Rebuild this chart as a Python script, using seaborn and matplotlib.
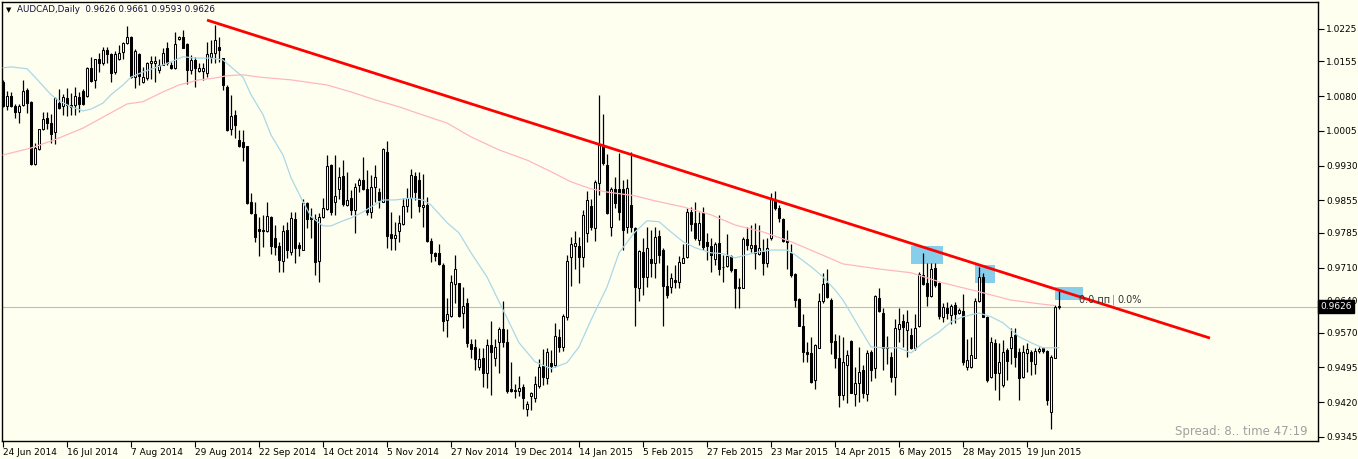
import numpy as np
import matplotlib
matplotlib.use("Agg")
import matplotlib.pyplot as plt
import seaborn as sns
from matplotlib.patches import Rectangle
from matplotlib.transforms import blended_transform_factory

# ---------------- data (AUDCAD daily) ----------------
opens = [
    1.0111, 1.0059, 1.0080, 1.0059, 1.0046, 1.0061, 1.0093, 1.0068, 0.9933, 0.9965,
    1.0009, 1.0032, 1.0022, 1.0002, 1.0066, 1.0059, 1.0076, 1.0061, 1.0061, 1.0079,
    1.0091, 1.0081, 1.0141, 1.0115, 1.0161, 1.0151, 1.0180, 1.0170, 1.0133, 1.0160,
    1.0176, 1.0195, 1.0207, 1.0122, 1.0171, 1.0110, 1.0120, 1.0151, 1.0152, 1.0136,
    1.0148, 1.0183, 1.0148, 1.0140, 1.0203, 1.0208, 1.0192, 1.0136, 1.0158, 1.0135,
    1.0135, 1.0129, 1.0165, 1.0172, 1.0187, 1.0162, 1.0100, 1.0009, 1.0039, 0.9985,
    0.9982, 0.9972, 0.9852, 0.9826, 0.9793, 0.9791, 0.9788, 0.9820, 0.9773, 0.9757,
    0.9725, 0.9791, 0.9743, 0.9815, 0.9759, 0.9748, 0.9849, 0.9820, 0.9815, 0.9725,
    0.9819, 0.9836, 0.9931, 0.9851, 0.9879, 0.9908, 0.9845, 0.9860, 0.9834, 0.9888,
    0.9898, 0.9880, 0.9831, 0.9883, 0.9874, 0.9852, 0.9960, 0.9782, 0.9773, 0.9788,
    0.9804, 0.9842, 0.9861, 0.9908, 0.9899, 0.9840, 0.9845, 0.9767, 0.9741, 0.9741,
    0.9716, 0.9597, 0.9606, 0.9675, 0.9676, 0.9613, 0.9633, 0.9545, 0.9538, 0.9495,
    0.9514, 0.9483, 0.9543, 0.9516, 0.9550, 0.9578, 0.9549, 0.9448, 0.9447, 0.9444,
    0.9452, 0.9406, 0.9433, 0.9428, 0.9455, 0.9498, 0.9471, 0.9505, 0.9500, 0.9560,
    0.9539, 0.9604, 0.9732, 0.9757, 0.9757, 0.9732, 0.9784, 0.9843, 0.9795, 0.9893,
    0.9974, 0.9931, 0.9798, 0.9879, 0.9879, 0.9879, 0.9797, 0.9845, 0.9795, 0.9667,
    0.9744, 0.9690, 0.9728, 0.9721, 0.9778, 0.9748, 0.9670, 0.9669, 0.9683, 0.9680,
    0.9719, 0.9732, 0.9829, 0.9806, 0.9770, 0.9827, 0.9766, 0.9757, 0.9728, 0.9764,
    0.9712, 0.9714, 0.9735, 0.9706, 0.9667, 0.9667, 0.9771, 0.9752, 0.9759, 0.9739,
    0.9744, 0.9719, 0.9773, 0.9856, 0.9838, 0.9814, 0.9770, 0.9742, 0.9696, 0.9642,
    0.9585, 0.9527, 0.9525, 0.9468, 0.9537, 0.9637, 0.9676, 0.9640, 0.9552, 0.9514,
    0.9435, 0.9500, 0.9552, 0.9437, 0.9462, 0.9489, 0.9437, 0.9527, 0.9493, 0.9644,
    0.9613, 0.9539, 0.9518, 0.9475, 0.9577, 0.9595, 0.9575, 0.9564, 0.9536, 0.9583,
    0.9694, 0.9676, 0.9649, 0.9710, 0.9677, 0.9603, 0.9623, 0.9608, 0.9629, 0.9613,
    0.9616, 0.9495, 0.9496, 0.9516, 0.9639, 0.9690, 0.9603, 0.9473, 0.9548, 0.9482,
    0.9457, 0.9532, 0.9536, 0.9564, 0.9527, 0.9475, 0.9525, 0.9527, 0.9502, 0.9531,
    0.9536, 0.9531, 0.9398, 0.9516, 0.9626,
]
highs = [
    1.0115, 1.0091, 1.0089, 1.0064, 1.0064, 1.0114, 1.0097, 1.0069, 0.9978, 1.0009,
    1.0046, 1.0045, 1.0041, 1.0078, 1.0095, 1.0084, 1.0097, 1.0086, 1.0099, 1.0089,
    1.0095, 1.0143, 1.0165, 1.0161, 1.0172, 1.0187, 1.0187, 1.0174, 1.0177, 1.0190,
    1.0197, 1.0232, 1.0210, 1.0182, 1.0172, 1.0143, 1.0153, 1.0167, 1.0167, 1.0159,
    1.0183, 1.0197, 1.0154, 1.0219, 1.0210, 1.0223, 1.0194, 1.0169, 1.0165, 1.0151,
    1.0151, 1.0196, 1.0201, 1.0234, 1.0208, 1.0163, 1.0103, 1.0082, 1.0050, 1.0007,
    1.0007, 0.9973, 0.9870, 0.9852, 0.9820, 0.9824, 0.9852, 0.9821, 0.9802, 0.9766,
    0.9801, 0.9809, 0.9831, 0.9831, 0.9766, 0.9858, 0.9852, 0.9838, 0.9825, 0.9827,
    0.9861, 0.9954, 0.9933, 0.9953, 0.9926, 0.9942, 0.9917, 0.9877, 0.9892, 0.9903,
    0.9949, 0.9921, 0.9910, 0.9931, 0.9881, 0.9967, 0.9983, 0.9831, 0.9809, 0.9824,
    0.9860, 0.9881, 0.9922, 0.9917, 0.9917, 0.9911, 0.9862, 0.9773, 0.9744, 0.9762,
    0.9719, 0.9644, 0.9694, 0.9737, 0.9677, 0.9669, 0.9644, 0.9557, 0.9557, 0.9536,
    0.9536, 0.9557, 0.9595, 0.9555, 0.9581, 0.9638, 0.9577, 0.9507, 0.9460, 0.9476,
    0.9460, 0.9423, 0.9442, 0.9476, 0.9512, 0.9534, 0.9536, 0.9532, 0.9590, 0.9577,
    0.9610, 0.9737, 0.9777, 0.9790, 0.9777, 0.9834, 0.9876, 0.9859, 0.9900, 1.0082,
    1.0041, 0.9956, 0.9885, 0.9905, 0.9958, 0.9900, 0.9902, 0.9960, 0.9798, 0.9748,
    0.9773, 0.9798, 0.9791, 0.9798, 0.9791, 0.9752, 0.9716, 0.9698, 0.9716, 0.9734,
    0.9762, 0.9838, 0.9841, 0.9852, 0.9831, 0.9840, 0.9784, 0.9773, 0.9766, 0.9824,
    0.9737, 0.9783, 0.9738, 0.9708, 0.9687, 0.9777, 0.9798, 0.9802, 0.9806, 0.9802,
    0.9771, 0.9773, 0.9870, 0.9876, 0.9845, 0.9816, 0.9791, 0.9762, 0.9698, 0.9644,
    0.9611, 0.9550, 0.9561, 0.9545, 0.9655, 0.9698, 0.9708, 0.9644, 0.9567, 0.9565,
    0.9561, 0.9532, 0.9554, 0.9496, 0.9539, 0.9500, 0.9532, 0.9532, 0.9651, 0.9667,
    0.9622, 0.9562, 0.9529, 0.9600, 0.9622, 0.9611, 0.9618, 0.9579, 0.9611, 0.9701,
    0.9741, 0.9719, 0.9719, 0.9719, 0.9680, 0.9633, 0.9636, 0.9631, 0.9636, 0.9622,
    0.9654, 0.9557, 0.9561, 0.9644, 0.9712, 0.9698, 0.9606, 0.9561, 0.9557, 0.9547,
    0.9554, 0.9536, 0.9579, 0.9579, 0.9536, 0.9543, 0.9547, 0.9532, 0.9536, 0.9539,
    0.9539, 0.9532, 0.9521, 0.9629, 0.9661,
]
lows = [
    1.0057, 1.0050, 1.0057, 1.0032, 1.0023, 1.0059, 1.0043, 0.9931, 0.9932, 0.9963,
    1.0007, 1.0010, 0.9978, 0.9976, 1.0053, 1.0039, 1.0037, 1.0039, 1.0039, 1.0046,
    1.0061, 1.0079, 1.0111, 1.0097, 1.0133, 1.0147, 1.0151, 1.0111, 1.0127, 1.0158,
    1.0161, 1.0192, 1.0120, 1.0098, 1.0105, 1.0108, 1.0115, 1.0117, 1.0110, 1.0129,
    1.0147, 1.0148, 1.0138, 1.0138, 1.0201, 1.0183, 1.0107, 1.0127, 1.0100, 1.0133,
    1.0115, 1.0122, 1.0151, 1.0151, 1.0154, 1.0093, 1.0005, 0.9996, 0.9990, 0.9971,
    0.9939, 0.9847, 0.9826, 0.9766, 0.9736, 0.9755, 0.9786, 0.9739, 0.9737, 0.9700,
    0.9701, 0.9730, 0.9737, 0.9721, 0.9734, 0.9747, 0.9795, 0.9773, 0.9694, 0.9680,
    0.9817, 0.9834, 0.9824, 0.9824, 0.9857, 0.9844, 0.9842, 0.9824, 0.9784, 0.9874,
    0.9877, 0.9824, 0.9818, 0.9852, 0.9838, 0.9851, 0.9752, 0.9747, 0.9748, 0.9766,
    0.9802, 0.9831, 0.9817, 0.9856, 0.9829, 0.9797, 0.9766, 0.9723, 0.9725, 0.9716,
    0.9574, 0.9560, 0.9604, 0.9633, 0.9604, 0.9579, 0.9539, 0.9514, 0.9490, 0.9489,
    0.9453, 0.9450, 0.9435, 0.9498, 0.9482, 0.9539, 0.9439, 0.9442, 0.9428, 0.9432,
    0.9406, 0.9390, 0.9403, 0.9421, 0.9450, 0.9457, 0.9459, 0.9485, 0.9496, 0.9529,
    0.9531, 0.9597, 0.9671, 0.9708, 0.9676, 0.9712, 0.9766, 0.9791, 0.9768, 0.9866,
    0.9931, 0.9826, 0.9778, 0.9838, 0.9813, 0.9749, 0.9785, 0.9787, 0.9583, 0.9639,
    0.9651, 0.9669, 0.9690, 0.9687, 0.9719, 0.9585, 0.9644, 0.9655, 0.9665, 0.9665,
    0.9719, 0.9730, 0.9788, 0.9770, 0.9759, 0.9748, 0.9726, 0.9701, 0.9716, 0.9694,
    0.9680, 0.9711, 0.9701, 0.9622, 0.9622, 0.9665, 0.9748, 0.9744, 0.9708, 0.9737,
    0.9694, 0.9712, 0.9770, 0.9834, 0.9809, 0.9766, 0.9708, 0.9690, 0.9626, 0.9583,
    0.9507, 0.9507, 0.9462, 0.9448, 0.9536, 0.9633, 0.9644, 0.9524, 0.9493, 0.9410,
    0.9424, 0.9417, 0.9439, 0.9411, 0.9421, 0.9428, 0.9422, 0.9466, 0.9471, 0.9615,
    0.9489, 0.9503, 0.9464, 0.9435, 0.9550, 0.9539, 0.9518, 0.9534, 0.9532, 0.9581,
    0.9672, 0.9627, 0.9647, 0.9669, 0.9600, 0.9593, 0.9600, 0.9588, 0.9590, 0.9609,
    0.9500, 0.9489, 0.9493, 0.9514, 0.9636, 0.9603, 0.9464, 0.9471, 0.9446, 0.9424,
    0.9453, 0.9467, 0.9503, 0.9496, 0.9424, 0.9471, 0.9485, 0.9478, 0.9480, 0.9525,
    0.9525, 0.9413, 0.9361, 0.9514, 0.9620,
]
closes = [
    1.0059, 1.0080, 1.0059, 1.0046, 1.0059, 1.0091, 1.0066, 0.9933, 0.9967, 1.0009,
    1.0030, 1.0021, 0.9999, 1.0076, 1.0055, 1.0078, 1.0061, 1.0057, 1.0081, 1.0062,
    1.0062, 1.0140, 1.0113, 1.0160, 1.0152, 1.0179, 1.0170, 1.0129, 1.0170, 1.0174,
    1.0195, 1.0207, 1.0122, 1.0177, 1.0124, 1.0122, 1.0151, 1.0156, 1.0156, 1.0148,
    1.0174, 1.0152, 1.0141, 1.0193, 1.0207, 1.0184, 1.0136, 1.0158, 1.0140, 1.0141,
    1.0141, 1.0170, 1.0172, 1.0201, 1.0180, 1.0103, 1.0007, 1.0038, 1.0018, 0.9972,
    0.9971, 0.9849, 0.9827, 0.9777, 0.9789, 0.9788, 0.9821, 0.9757, 0.9755, 0.9727,
    0.9788, 0.9748, 0.9816, 0.9752, 0.9752, 0.9849, 0.9815, 0.9815, 0.9722, 0.9820,
    0.9838, 0.9929, 0.9831, 0.9865, 0.9906, 0.9847, 0.9856, 0.9834, 0.9883, 0.9898,
    0.9880, 0.9831, 0.9883, 0.9906, 0.9856, 0.9965, 0.9779, 0.9773, 0.9780, 0.9806,
    0.9842, 0.9861, 0.9910, 0.9874, 0.9842, 0.9846, 0.9768, 0.9741, 0.9736, 0.9718,
    0.9595, 0.9611, 0.9678, 0.9706, 0.9606, 0.9627, 0.9548, 0.9534, 0.9512, 0.9512,
    0.9482, 0.9544, 0.9529, 0.9538, 0.9578, 0.9550, 0.9444, 0.9444, 0.9444, 0.9451,
    0.9428, 0.9416, 0.9439, 0.9460, 0.9495, 0.9473, 0.9527, 0.9498, 0.9562, 0.9538,
    0.9606, 0.9724, 0.9761, 0.9764, 0.9732, 0.9823, 0.9856, 0.9798, 0.9895, 0.9974,
    0.9935, 0.9827, 0.9879, 0.9849, 0.9831, 0.9791, 0.9881, 0.9798, 0.9669, 0.9746,
    0.9690, 0.9752, 0.9721, 0.9777, 0.9737, 0.9670, 0.9651, 0.9687, 0.9680, 0.9723,
    0.9730, 0.9831, 0.9804, 0.9773, 0.9806, 0.9755, 0.9757, 0.9737, 0.9761, 0.9706,
    0.9711, 0.9735, 0.9705, 0.9667, 0.9669, 0.9771, 0.9759, 0.9759, 0.9741, 0.9752,
    0.9719, 0.9752, 0.9857, 0.9838, 0.9816, 0.9768, 0.9766, 0.9694, 0.9640, 0.9585,
    0.9529, 0.9524, 0.9464, 0.9543, 0.9637, 0.9674, 0.9646, 0.9550, 0.9514, 0.9435,
    0.9507, 0.9521, 0.9440, 0.9462, 0.9484, 0.9439, 0.9525, 0.9490, 0.9649, 0.9616,
    0.9536, 0.9536, 0.9473, 0.9579, 0.9588, 0.9581, 0.9593, 0.9536, 0.9579, 0.9696,
    0.9675, 0.9649, 0.9708, 0.9672, 0.9606, 0.9626, 0.9613, 0.9627, 0.9611, 0.9618,
    0.9507, 0.9511, 0.9521, 0.9639, 0.9689, 0.9604, 0.9467, 0.9550, 0.9482, 0.9507,
    0.9529, 0.9509, 0.9561, 0.9518, 0.9471, 0.9529, 0.9534, 0.9509, 0.9531, 0.9534,
    0.9531, 0.9424, 0.9518, 0.9624, 0.9626,
]

# fast moving average (light blue), sampled at bar indices
ma_fast_idx = [0, 2, 6, 8, 12, 14, 17, 20, 22, 25, 27, 30, 32, 35, 38, 42, 45, 48, 52, 55,
               57, 60, 62, 65, 67, 70, 72, 75, 77, 80, 82, 85, 87, 90, 92, 95, 98, 102, 105,
               107, 111, 114, 117, 121, 125, 129, 133, 137, 141, 144, 147, 151, 154, 158,
               161, 164, 167, 170, 173, 177, 180, 183, 186, 189, 192, 196, 198, 202, 205,
               208, 210, 214, 217, 220, 224, 227, 230, 234, 237, 240, 244, 247, 250, 254,
               257, 260, 264]
ma_fast_val = [1.0141, 1.0143, 1.0139, 1.0121, 1.0083, 1.0070, 1.0057, 1.0048, 1.0052, 1.0065,
               1.0083, 1.0104, 1.0121, 1.0132, 1.0141, 1.0154, 1.0165, 1.0162, 1.0162, 1.0158,
               1.0143, 1.0121, 1.0083, 1.0040, 0.9996, 0.9953, 0.9904, 0.9852, 0.9820, 0.9800,
               0.9800, 0.9811, 0.9817, 0.9830, 0.9841, 0.9856, 0.9856, 0.9860, 0.9856,
               0.9845, 0.9807, 0.9785, 0.9742, 0.9690, 0.9619, 0.9548, 0.9507, 0.9492, 0.9505,
               0.9539, 0.9597, 0.9668, 0.9742, 0.9787,
               0.9811, 0.9809, 0.9787, 0.9766, 0.9753, 0.9742, 0.9740, 0.9731, 0.9738, 0.9744,
               0.9748, 0.9748, 0.9738, 0.9712, 0.9690,
               0.9662, 0.9640, 0.9582, 0.9539, 0.9537, 0.9537, 0.9526, 0.9548, 0.9571, 0.9593,
               0.9604, 0.9612, 0.9604, 0.9591, 0.9561,
               0.9548, 0.9537, 0.9537]

# slow moving average (pink), sampled at bar indices
ma_slow_idx = [0, 7, 13, 20, 27, 31, 35, 40, 44, 49, 53, 56, 60, 64, 72, 81, 87, 93, 99, 104,
               111, 117, 124, 131, 137, 142, 147, 151, 158, 163, 170, 177, 183, 190, 197,
               203, 210, 219, 227, 235, 244, 252, 259, 263]
ma_slow_val = [0.9953, 0.9968, 0.9986, 1.0011, 1.0044, 1.0063, 1.0068, 1.0089, 1.0104, 1.0115,
               1.0119, 1.0124, 1.0126, 1.0121, 1.0115, 1.0104, 1.0089, 1.0072, 1.0057, 1.0042,
               1.0022, 0.9992, 0.9964, 0.9942, 0.9917, 0.9895, 0.9880, 0.9873, 0.9865, 0.9854,
               0.9841, 0.9824, 0.9802, 0.9787, 0.9766,
               0.9744, 0.9718, 0.9707, 0.9699, 0.9677, 0.9658, 0.9640, 0.9632, 0.9628]

# trend line (bar index, price)
trend_idx = [51, 301.75]
trend_val = [1.0244, 0.9558]

# highlight boxes: (start bar, end bar, low price, high price)
box_start = [227, 243, 263]
box_end = [235, 248, 270]
box_low = [0.9718, 0.9677, 0.9640]
box_high = [0.9757, 0.9716, 0.9669]

price_ticks = [1.0225, 1.0155, 1.0080, 1.0005, 0.9930, 0.9855, 0.9785, 0.9710,
               0.9640, 0.9570, 0.9495, 0.9420, 0.9345]
date_labels = ["24 Jun 2014", "16 Jul 2014", "7 Aug 2014", "29 Aug 2014", "22 Sep 2014",
               "14 Oct 2014", "5 Nov 2014", "27 Nov 2014", "19 Dec 2014", "14 Jan 2015",
               "5 Feb 2015", "27 Feb 2015", "23 Mar 2015", "14 Apr 2015", "6 May 2015",
               "28 May 2015", "19 Jun 2015"]
date_tick_every = 16
last_price = 0.9626
header = "AUDCAD,Daily  0.9626 0.9661 0.9593 0.9626"

# ---------------- drawing ----------------
BG = "#FFFFF0"
sns.set_style("white")
plt.rcParams["font.family"] = ["DejaVu Sans"]

W, H = 1358, 459
fig = plt.figure(figsize=(W / 100, H / 100), dpi=100, facecolor=BG)
ax = fig.add_axes([2 / W, 1 - 441 / H, (1318 - 2) / W, (441 - 2) / H])
ax.set_facecolor(BG)

o = np.array(opens); h = np.array(highs); l = np.array(lows); c = np.array(closes)
n = len(c)
x = np.arange(n)
bull = c >= o

# highlight boxes (behind candles)
for s, e, lo, hi in zip(box_start, box_end, box_low, box_high):
    ax.add_patch(Rectangle((s, lo), e - s, hi - lo, facecolor="#87CEEB",
                           edgecolor="none", zorder=1))

# current price line
ax.axhline(last_price, color="#BDBDBD", lw=0.8, zorder=1.5)

# candles
ax.vlines(x, l, h, color="black", lw=0.9, zorder=2)
bottom = np.minimum(o, c)
height = np.maximum(np.abs(c - o), 0.00003)
ax.bar(x, height, bottom=bottom, width=0.62,
       color=np.where(bull, BG, "black"), edgecolor="black", linewidth=0.75, zorder=3)

# moving averages
sns.lineplot(x=ma_slow_idx, y=ma_slow_val, ax=ax, color="#FFB6C1", lw=0.9, zorder=4)
sns.lineplot(x=ma_fast_idx, y=ma_fast_val, ax=ax, color="#A8D8E8", lw=0.9, zorder=4)

# trend line
ax.plot(trend_idx, trend_val, color="#FF0000", lw=2.0, zorder=5, solid_capstyle="butt")

ax.set_xlim(-0.25, 328.75)
ax.set_ylim(0.9336, 1.0283)

# axes styling
for sp in ax.spines.values():
    sp.set_visible(True)
    sp.set_color("black")
    sp.set_linewidth(1.0)

ax.yaxis.tick_right()
ax.set_yticks(price_ticks)
ax.set_yticklabels([f"{v:.4f}" for v in price_ticks])
ax.tick_params(axis="y", which="both", direction="out", length=4, width=0.8,
               pad=2, labelsize=6.5, colors="black", right=True, left=False)

xt = [i * date_tick_every for i in range(len(date_labels))]
ax.set_xticks(xt)
ax.set_xticklabels(date_labels, ha="left")
ax.tick_params(axis="x", which="both", direction="out", length=4, width=0.8,
               pad=1, labelsize=6.5, colors="black", bottom=True)
ax.set_xlabel("")
ax.set_ylabel("")
ax.grid(False)

# current price tag (drawn over the 0.9640 label, as in the terminal)
tr = blended_transform_factory(ax.transAxes, ax.transData)
ax.text(1.0015, last_price, f"{last_price:.4f}", transform=tr, va="center", ha="left",
        color="white", fontsize=6.5, zorder=10, clip_on=False,
        bbox=dict(boxstyle="square,pad=0.25", fc="black", ec="black"))

# annotation near the last box
ax.text(269.0, 0.9641, "0.0 пп", fontsize=7, color="#333333", va="center", ha="left", zorder=6)
ax.text(277.2, 0.9641, "|", fontsize=7, color="#C8781E", va="center", ha="left", zorder=6)
ax.text(278.6, 0.9641, "0.0%", fontsize=7, color="#333333", va="center", ha="left", zorder=6)

# header
fig.text(6 / W, 1 - 10 / H, "▼", fontsize=5, color="black", va="center", ha="left")
fig.text(17 / W, 1 - 10 / H, header, fontsize=6.3, color="#10103A", va="center", ha="left")

# spread text
fig.text(1308 / W, 1 - 432 / H, "Spread: 8.. time 47:19", fontsize=8.5, color="#A0A0A0",
         va="center", ha="right")

fig.savefig("out.png", dpi=100, facecolor=BG)
